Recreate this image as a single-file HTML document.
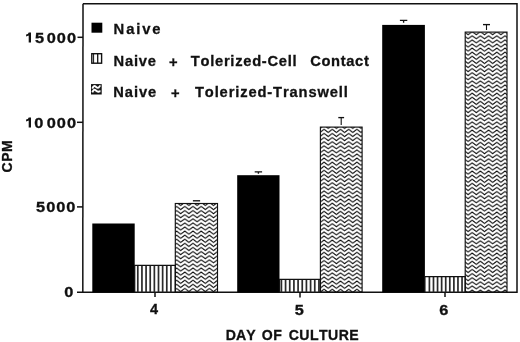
<!DOCTYPE html>
<html><head><meta charset="utf-8">
<style>
html,body{margin:0;padding:0;background:#fff;width:520px;height:342px;overflow:hidden}
svg{display:block;will-change:transform}
text{font-family:"Liberation Sans",sans-serif;font-weight:bold;fill:#111;stroke:#111;stroke-width:0.3;font-kerning:none}
</style></head>
<body>
<svg width="520" height="342" viewBox="0 0 520 342">
<defs>
<pattern id="zz1" patternUnits="userSpaceOnUse" x="4.400" y="1.500" width="8.2" height="4.1"><path d="M-8.200,-8.200 L-4.100,-5.100 L0.000,-8.200 L4.100,-5.100 L8.200,-8.200 L12.300,-5.100 M-8.200,-4.100 L-4.100,-1.000 L0.000,-4.100 L4.100,-1.000 L8.200,-4.100 L12.300,-1.000 M-8.200,0.000 L-4.100,3.100 L0.000,0.000 L4.100,3.100 L8.200,0.000 L12.300,3.100 M-8.200,4.100 L-4.100,7.200 L0.000,4.100 L4.100,7.200 L8.200,4.100 L12.300,7.200 M-8.200,8.200 L-4.100,11.300 L0.000,8.200 L4.100,11.300 L8.200,8.200 L12.300,11.300" fill="none" stroke="#000" stroke-width="1.1" stroke-linejoin="miter"/></pattern>
<pattern id="zz2" patternUnits="userSpaceOnUse" x="4.300" y="2.300" width="8.2" height="4.1"><path d="M-8.200,-8.200 L-4.100,-5.100 L0.000,-8.200 L4.100,-5.100 L8.200,-8.200 L12.300,-5.100 M-8.200,-4.100 L-4.100,-1.000 L0.000,-4.100 L4.100,-1.000 L8.200,-4.100 L12.300,-1.000 M-8.200,0.000 L-4.100,3.100 L0.000,0.000 L4.100,3.100 L8.200,0.000 L12.300,3.100 M-8.200,4.100 L-4.100,7.200 L0.000,4.100 L4.100,7.200 L8.200,4.100 L12.300,7.200 M-8.200,8.200 L-4.100,11.300 L0.000,8.200 L4.100,11.300 L8.200,8.200 L12.300,11.300" fill="none" stroke="#000" stroke-width="1.1" stroke-linejoin="miter"/></pattern>
<pattern id="zz3" patternUnits="userSpaceOnUse" x="4.800" y="3.000" width="8.2" height="4.1"><path d="M-8.200,-8.200 L-4.100,-5.100 L0.000,-8.200 L4.100,-5.100 L8.200,-8.200 L12.300,-5.100 M-8.200,-4.100 L-4.100,-1.000 L0.000,-4.100 L4.100,-1.000 L8.200,-4.100 L12.300,-1.000 M-8.200,0.000 L-4.100,3.100 L0.000,0.000 L4.100,3.100 L8.200,0.000 L12.300,3.100 M-8.200,4.100 L-4.100,7.200 L0.000,4.100 L4.100,7.200 L8.200,4.100 L12.300,7.200 M-8.200,8.200 L-4.100,11.300 L0.000,8.200 L4.100,11.300 L8.200,8.200 L12.300,11.300" fill="none" stroke="#000" stroke-width="1.1" stroke-linejoin="miter"/></pattern>
</defs>
<g stroke="#111" stroke-width="1.5" fill="none">
<path d="M83,3.7 H517 V292.3 H77"/>
<line x1="83" y1="3.7" x2="82.8" y2="292.3"/>
<line x1="77" y1="206.9" x2="83" y2="206.9"/>
<line x1="77" y1="122.3" x2="83" y2="122.3"/>
<line x1="77.5" y1="37.3" x2="83" y2="37.3"/>
<line x1="155" y1="292.3" x2="155" y2="297"/>
<line x1="300" y1="292.3" x2="300" y2="297.5"/>
<line x1="445" y1="292.3" x2="445" y2="297"/>
</g>
<rect x="92.3" y="223.5" width="42.40" height="68.80" fill="#000"/>
<rect x="136.95" y="265.30" width="1.7" height="27.00" fill="#2a2a2a"/>
<rect x="141.09" y="265.30" width="1.7" height="27.00" fill="#2a2a2a"/>
<rect x="145.23" y="265.30" width="1.7" height="27.00" fill="#2a2a2a"/>
<rect x="149.37" y="265.30" width="1.7" height="27.00" fill="#2a2a2a"/>
<rect x="153.51" y="265.30" width="1.7" height="27.00" fill="#2a2a2a"/>
<rect x="157.65" y="265.30" width="1.7" height="27.00" fill="#2a2a2a"/>
<rect x="161.79" y="265.30" width="1.7" height="27.00" fill="#2a2a2a"/>
<rect x="165.93" y="265.30" width="1.7" height="27.00" fill="#2a2a2a"/>
<rect x="170.07" y="265.30" width="1.7" height="27.00" fill="#2a2a2a"/>
<path d="M134.7,292.3 V265.3 H175.3 V292.3" fill="none" stroke="#111" stroke-width="1.3"/>
<rect x="175.3" y="203.5" width="42.20" height="88.80" fill="url(#zz1)" stroke="#111" stroke-width="1.15"/>
<rect x="237.2" y="175.2" width="42.30" height="117.10" fill="#000"/>
<rect x="280.55" y="279.40" width="1.7" height="12.90" fill="#2a2a2a"/>
<rect x="284.72" y="279.40" width="1.7" height="12.90" fill="#2a2a2a"/>
<rect x="288.89" y="279.40" width="1.7" height="12.90" fill="#2a2a2a"/>
<rect x="293.06" y="279.40" width="1.7" height="12.90" fill="#2a2a2a"/>
<rect x="297.23" y="279.40" width="1.7" height="12.90" fill="#2a2a2a"/>
<rect x="301.40" y="279.40" width="1.7" height="12.90" fill="#2a2a2a"/>
<rect x="305.57" y="279.40" width="1.7" height="12.90" fill="#2a2a2a"/>
<rect x="309.74" y="279.40" width="1.7" height="12.90" fill="#2a2a2a"/>
<rect x="313.91" y="279.40" width="1.7" height="12.90" fill="#2a2a2a"/>
<rect x="318.08" y="279.40" width="1.7" height="12.90" fill="#2a2a2a"/>
<path d="M279.5,292.3 V279.4 H320.4 V292.3" fill="none" stroke="#111" stroke-width="1.3"/>
<rect x="320.4" y="127.1" width="41.70" height="165.20" fill="url(#zz2)" stroke="#111" stroke-width="1.15"/>
<rect x="382.2" y="24.9" width="42.70" height="267.40" fill="#000"/>
<rect x="428.55" y="276.60" width="1.7" height="15.70" fill="#2a2a2a"/>
<rect x="432.63" y="276.60" width="1.7" height="15.70" fill="#2a2a2a"/>
<rect x="436.71" y="276.60" width="1.7" height="15.70" fill="#2a2a2a"/>
<rect x="440.79" y="276.60" width="1.7" height="15.70" fill="#2a2a2a"/>
<rect x="444.87" y="276.60" width="1.7" height="15.70" fill="#2a2a2a"/>
<rect x="448.95" y="276.60" width="1.7" height="15.70" fill="#2a2a2a"/>
<rect x="453.03" y="276.60" width="1.7" height="15.70" fill="#2a2a2a"/>
<rect x="457.11" y="276.60" width="1.7" height="15.70" fill="#2a2a2a"/>
<rect x="461.19" y="276.60" width="1.7" height="15.70" fill="#2a2a2a"/>
<path d="M424.9,292.3 V276.6 H465.2 V292.3" fill="none" stroke="#111" stroke-width="1.3"/>
<rect x="465.2" y="32.1" width="41.80" height="260.20" fill="url(#zz3)" stroke="#111" stroke-width="1.15"/>
<g stroke="#111" stroke-width="1.35" fill="none">
<path d="M192.9,200.8 H200.1"/>
<path d="M254.7,171.9 H262.1 M258.4,171.9 V173.8"/>
<path d="M338.3,117.6 H344.1"/>
<path d="M341.2,117.6 V124.9" stroke-width="1.1"/>
<path d="M399.9,20.4 H407.3 M403.6,20.4 V22.8"/>
<path d="M483,24.6 H490"/>
<path d="M486.5,24.6 V30" stroke-width="1.1"/>
</g>
<path d="M28.70,32.50 L31.00,32.50 L31.00,42.50 L28.70,42.50 L28.70,35.60 C28.10,36.10 26.80,36.40 26.10,36.40 L26.10,34.60 C27.40,34.50 28.40,33.50 28.70,32.50 Z" fill="#111"/>
<text transform="translate(34.90,42.50) scale(1.160,1)" font-size="14.1">5</text>
<text transform="translate(46.75,42.50) scale(1.160,1)" font-size="14.1">0</text>
<text transform="translate(56.85,42.50) scale(1.160,1)" font-size="14.1">0</text>
<text transform="translate(67.05,42.50) scale(1.160,1)" font-size="14.1">0</text>
<path d="M28.70,117.50 L31.00,117.50 L31.00,127.50 L28.70,127.50 L28.70,120.60 C28.10,121.10 26.80,121.40 26.10,121.40 L26.10,119.60 C27.40,119.50 28.40,118.50 28.70,117.50 Z" fill="#111"/>
<text transform="translate(34.15,127.50) scale(1.160,1)" font-size="14.1">0</text>
<text transform="translate(46.75,127.50) scale(1.160,1)" font-size="14.1">0</text>
<text transform="translate(56.85,127.50) scale(1.160,1)" font-size="14.1">0</text>
<text transform="translate(67.05,127.50) scale(1.160,1)" font-size="14.1">0</text>
<text transform="translate(36.00,212.00) scale(1.160,1)" font-size="14.1">5</text>
<text transform="translate(46.15,212.00) scale(1.160,1)" font-size="14.1">0</text>
<text transform="translate(56.25,212.00) scale(1.160,1)" font-size="14.1">0</text>
<text transform="translate(66.35,212.00) scale(1.160,1)" font-size="14.1">0</text>
<text transform="translate(64.35,297.00) scale(1.160,1)" font-size="14.1">0</text>
<text transform="translate(149.88,314.40) scale(0.980,1)" font-size="14.8">4</text>
<text transform="translate(294.70,314.60) scale(1.100,1)" font-size="14.8">5</text>
<text transform="translate(439.30,314.90) scale(1.100,1)" font-size="14.8">6</text>
<text transform="translate(225.86,339.90) scale(1.000,1)" font-size="14.1" letter-spacing="0.050">DAY</text>
<text transform="translate(261.82,339.90) scale(1.000,1)" font-size="14.1" letter-spacing="0.400">OF</text>
<text transform="translate(288.72,339.90) scale(1.000,1)" font-size="14.1" letter-spacing="0.450">CULTURE</text>
<text transform="translate(11.9,172.5) rotate(-90)" font-size="14" letter-spacing="0.55">CPM</text>
<rect x="91.5" y="22.7" width="10.8" height="10" fill="#000"/>
<text transform="translate(113.61,34.40) scale(1.000,1)" font-size="14.8" letter-spacing="1.876">Naive</text>
<g stroke="#111" fill="none">
<rect x="91.8" y="53.7" width="9.8" height="9.5" stroke-width="1.4"/>
<line x1="93.6" y1="53.7" x2="93.6" y2="63.2" stroke-width="1"/>
<line x1="97.7" y1="53.7" x2="97.7" y2="63.2" stroke-width="1.3"/>
</g>
<text transform="translate(113.52,65.85) scale(1.000,1)" font-size="14.7" letter-spacing="0.815">Naive</text>
<text transform="translate(169.08,67.00) scale(1.000,1)" font-size="14.7">+</text>
<text transform="translate(190.73,65.85) scale(1.000,1)" font-size="14.7" letter-spacing="0.740">Tolerized-Cell</text>
<text transform="translate(310.20,65.85) scale(1.000,1)" font-size="14.7" letter-spacing="0.661">Contact</text>
<g stroke="#111" fill="none">
<rect x="91.75" y="84.85" width="9.2" height="8.9" stroke-width="1.5" fill="#222"/>
<path d="M92.3,88.6 C93.3,86.2 94.3,85.4 95.4,86.3 S97.6,88.4 98.6,87.6 S100.1,85.6 100.5,85.6" stroke="#fff" stroke-width="1.9"/>
<path d="M92.3,92.4 C93.3,90 94.3,89.2 95.4,90.1 S97.6,92.2 98.6,91.6 S100.1,91.2 100.5,91.2" stroke="#fff" stroke-width="1.9"/>
</g>
<text transform="translate(113.32,96.85) scale(1.000,1)" font-size="14.7" letter-spacing="0.940">Naive</text>
<text transform="translate(171.08,98.10) scale(1.000,1)" font-size="14.7">+</text>
<text transform="translate(194.93,96.90) scale(1.000,1)" font-size="14.7" letter-spacing="0.876">Tolerized-Transwell</text>
</svg>
</body></html>
